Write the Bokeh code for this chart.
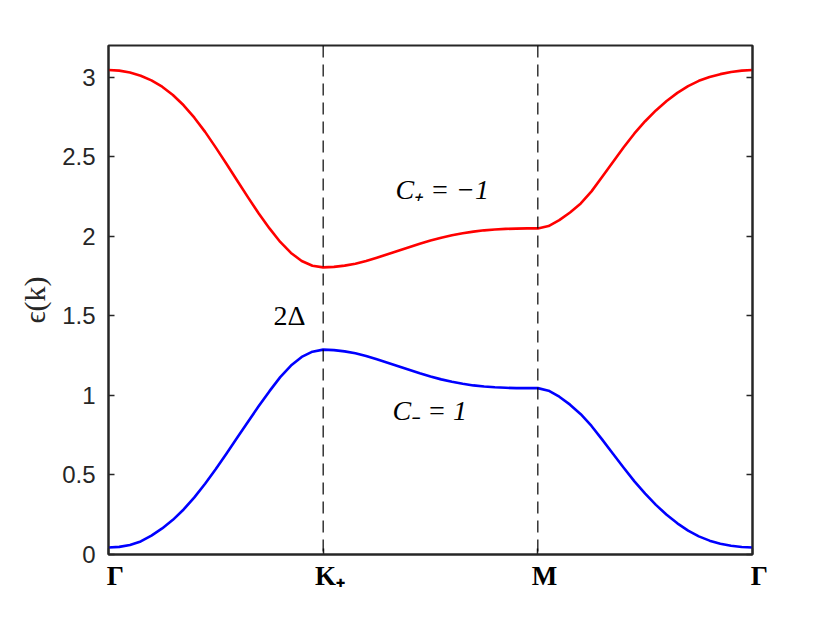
from bokeh.plotting import figure
from bokeh.models import FixedTicker, Span, LinearAxis, Range1d, Label
from bokeh.embed import file_html
from bokeh.resources import INLINE

# ---- data ----
tick_pos = [0, 1, 2, 3]
tick_labels = ["Γ", "K₊", "M", "Γ"]
sym_pos = [1, 2]  # K+ and M (dashed markers)

# path Γ -> K+
k_seg1 = [0.0, 0.05, 0.1, 0.15, 0.2, 0.25, 0.3, 0.35, 0.4, 0.45, 0.5,
          0.55, 0.6, 0.65, 0.7, 0.75, 0.8, 0.85, 0.9, 0.95, 1.0]
upper_seg1 = [3.046, 3.042, 3.030, 3.010, 2.981, 2.941, 2.889, 2.824, 2.746, 2.657, 2.558,
              2.455, 2.350, 2.245, 2.144, 2.050, 1.965, 1.896, 1.845, 1.815, 1.805]
lower_seg1 = [0.044, 0.048, 0.060, 0.082, 0.119, 0.164, 0.218, 0.283, 0.359, 0.445, 0.537,
              0.635, 0.735, 0.835, 0.933, 1.027, 1.115, 1.188, 1.242, 1.275, 1.288]

# path K+ -> M
k_seg2 = [1.0, 1.05, 1.1, 1.15, 1.2, 1.25, 1.3, 1.35, 1.4, 1.45, 1.5,
          1.55, 1.6, 1.65, 1.7, 1.75, 1.8, 1.85, 1.9, 1.95, 2.0]
upper_seg2 = [1.805, 1.808, 1.816, 1.828, 1.845, 1.866, 1.888, 1.910, 1.932, 1.954, 1.974,
              1.992, 2.007, 2.020, 2.030, 2.038, 2.043, 2.047, 2.049, 2.050, 2.050]
lower_seg2 = [1.288, 1.285, 1.277, 1.265, 1.248, 1.227, 1.205, 1.183, 1.161, 1.139, 1.119,
              1.101, 1.086, 1.073, 1.063, 1.056, 1.051, 1.048, 1.046, 1.046, 1.046]

# path M -> Γ
k_seg3 = [2.0, 2.05, 2.1, 2.15, 2.2, 2.25, 2.3, 2.35, 2.4, 2.45, 2.5,
          2.55, 2.6, 2.65, 2.7, 2.75, 2.8, 2.85, 2.9, 2.95, 3.0]
upper_seg3 = [2.050, 2.065, 2.102, 2.150, 2.207, 2.283, 2.375, 2.468, 2.560, 2.647, 2.724,
              2.792, 2.851, 2.902, 2.945, 2.978, 3.002, 3.020, 3.033, 3.042, 3.046]
lower_seg3 = [1.046, 1.030, 0.992, 0.942, 0.882, 0.808, 0.722, 0.633, 0.545, 0.460, 0.383,
              0.312, 0.250, 0.196, 0.150, 0.114, 0.087, 0.068, 0.055, 0.047, 0.044]

y_ticks = [0, 0.5, 1, 1.5, 2, 2.5, 3]
y_tick_labels = ["0", "0.5", "1", "1.5", "2", "2.5", "3"]

ann_text = ["C₊ = −1", "C₋ = 1", "2Δ"]
ann_x = [1.337, 1.323, 0.843]
ann_y = [2.292, 0.905, 1.504]
ann_align = ["left", "left", "center"]

k_all = k_seg1 + k_seg2[1:] + k_seg3[1:]
upper = upper_seg1 + upper_seg2[1:] + upper_seg3[1:]
lower = lower_seg1 + lower_seg2[1:] + lower_seg3[1:]

AX = "#262626"

p = figure(frame_width=644, frame_height=509,
           x_range=Range1d(0, 3), y_range=Range1d(0, 3.2),
           output_backend="svg", toolbar_location=None,
           min_border_left=108, min_border_top=45,
           min_border_right=50, min_border_bottom=50)

p.background_fill_color = "white"
p.border_fill_color = "white"
p.outline_line_color = AX
p.outline_line_width = 2
p.xgrid.visible = False
p.ygrid.visible = False

for s in sym_pos:
    p.add_layout(Span(location=s, dimension="height", line_color="black",
                      line_width=1.2, line_dash="12 7"))

p.line(k_all, upper, line_color="#ff0000", line_width=2.6, line_join="round")
p.line(k_all, lower, line_color="#0000ff", line_width=2.6, line_join="round")

# x axis
xa = p.xaxis[0]
xa.ticker = FixedTicker(ticks=tick_pos)
xa.major_label_overrides = {t: "\u2002" + l for t, l in zip(tick_pos, tick_labels)}
xa.major_label_text_font = "Liberation Serif"
xa.major_label_text_font_style = "bold"
xa.major_label_text_font_size = "27px"
xa.major_label_text_color = "black"
xa.major_tick_in = 6
xa.major_tick_out = 0
xa.minor_tick_line_color = None
xa.axis_line_color = AX
xa.axis_line_width = 2
xa.major_tick_line_color = AX
xa.major_tick_line_width = 1.5
xa.major_label_standoff = 6

# y axis
ya = p.yaxis[0]
ya.ticker = FixedTicker(ticks=y_ticks)
ya.major_label_overrides = {t: l for t, l in zip(y_ticks, y_tick_labels)}
ya.major_label_text_font = "Liberation Sans"
ya.major_label_text_font_size = "24px"
ya.major_label_text_color = AX
ya.major_tick_in = 6
ya.major_tick_out = 0
ya.minor_tick_line_color = None
ya.axis_line_color = AX
ya.axis_line_width = 2
ya.major_tick_line_color = AX
ya.major_tick_line_width = 1.5
ya.major_label_standoff = 13
ya.axis_label = "ϵ(k)"
ya.axis_label_text_font = "Liberation Serif"
ya.axis_label_text_font_style = "normal"
ya.axis_label_text_font_size = "30px"
ya.axis_label_text_color = AX
ya.axis_label_standoff = 8

# right axis (ticks only, box style)
ra = LinearAxis(ticker=FixedTicker(ticks=y_ticks))
ra.major_label_text_font_size = "0px"
ra.major_label_text_alpha = 0
ra.major_tick_in = 6
ra.major_tick_out = 0
ra.minor_tick_line_color = None
ra.axis_line_color = AX
ra.axis_line_width = 2
ra.major_tick_line_color = AX
ra.major_tick_line_width = 1.5
p.add_layout(ra, "right")

for t, x, y, a in zip(ann_text, ann_x, ann_y, ann_align):
    p.add_layout(Label(x=x, y=y, text=t, text_font="Liberation Serif",
                       text_font_style="italic" if t.startswith("C") else "normal",
                       text_font_size="28px", text_color="black",
                       text_align=a, text_baseline="middle"))

open("out.html", "w").write(file_html(p, INLINE))
